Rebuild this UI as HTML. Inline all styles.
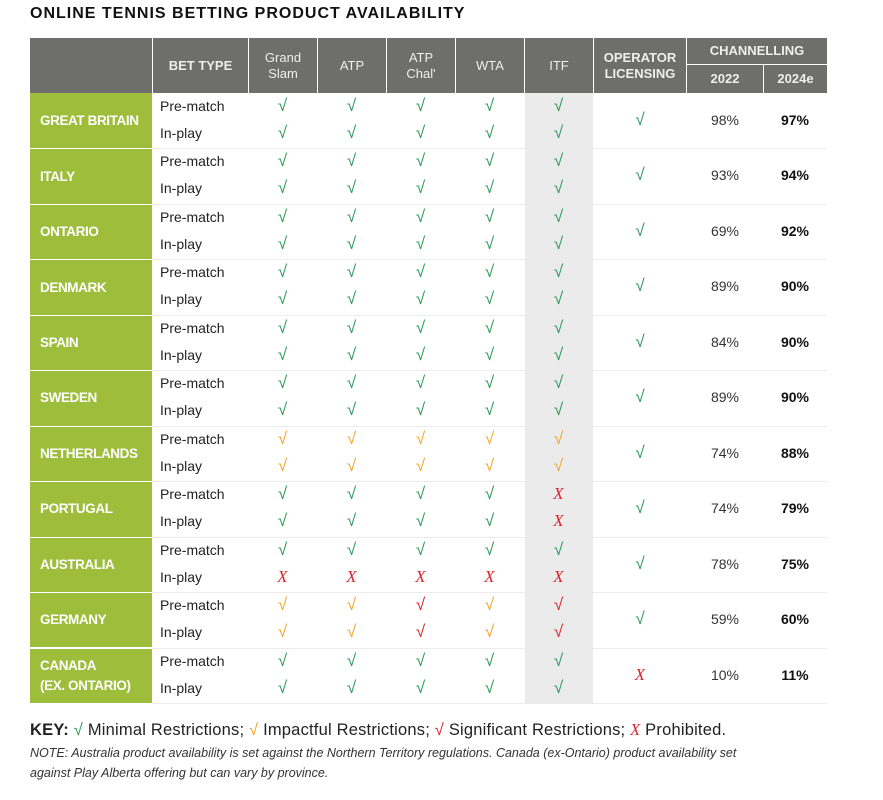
<!DOCTYPE html>
<html><head><meta charset="utf-8">
<style>
body{margin:0;width:883px;height:800px;background:#fff;font-family:"Liberation Sans",sans-serif;position:relative;overflow:hidden}
.a{position:absolute;box-sizing:border-box}
.h{background:#6e6e6d;color:#eee;display:flex;align-items:center;justify-content:center;text-align:center;font-size:13px;line-height:16px}
.hb{font-weight:bold;font-size:13px}
.c{background:#9dbd3b;color:#fff;font-weight:bold;font-size:13.5px;letter-spacing:-0.4px;display:flex;align-items:center;padding-left:10px;line-height:20px}
.t{font-size:14px;color:#222}
.m{font-size:17px;text-align:center;width:30px;margin-left:-15px}
.g{color:#2b9a58}.o{color:#f1a62c}.r{color:#d8262c}.x{color:#d8262c;font-style:italic;font-family:"Liberation Serif",serif}
</style></head><body>
<div class="a" style="left:30px;top:5px;font-size:16px;font-weight:bold;color:#111;letter-spacing:1px">ONLINE TENNIS BETTING PRODUCT AVAILABILITY</div>
<div id="tbl"></div>
<div class="a" style="left:30px;top:720px;font-size:16.5px;color:#222;white-space:nowrap;letter-spacing:0.2px"><b>KEY:</b> <span class="g">√</span> Minimal Restrictions; <span class="o">√</span> Impactful Restrictions; <span class="r">√</span> Significant Restrictions; <span class="x">X</span> Prohibited.</div>
<div class="a" style="left:30px;top:743px;font-size:12.5px;font-style:italic;color:#333;line-height:20px;width:840px;white-space:nowrap">NOTE: Australia product availability is set against the Northern Territory regulations. Canada (ex-Ontario) product availability set<br>against Play Alberta offering but can vary by province.</div>
<script>
const countries=["GREAT BRITAIN","ITALY","ONTARIO","DENMARK","SPAIN","SWEDEN","NETHERLANDS","PORTUGAL","AUSTRALIA","GERMANY","CANADA<br>(EX. ONTARIO)"];
const columns=["Grand<br>Slam","ATP","ATP<br>Chal'","WTA","ITF"];
// per country: [pre-match 5 cols],[in-play 5 cols]
const preMatch=["ggggg","ggggg","ggggg","ggggg","ggggg","ggggg","ooooo","ggggx","ggggg","ooror","ggggg"];
const inPlay=["ggggg","ggggg","ggggg","ggggg","ggggg","ggggg","ooooo","ggggx","xxxxx","ooror","ggggg"];
const licensing=["g","g","g","g","g","g","g","g","g","g","x"];
const ch2022=["98%","93%","69%","89%","84%","89%","74%","74%","78%","59%","10%"];
const ch2024=["97%","94%","92%","90%","90%","90%","88%","79%","75%","60%","11%"];
const T=document.getElementById('tbl');
function box(cls,x,y,w,h,html,name){const d=document.createElement('div');d.className='a '+cls;d.style.left=x+'px';d.style.top=y+'px';if(w!=null)d.style.width=w+'px';if(h!=null)d.style.height=h+'px';d.innerHTML=html;


T.appendChild(d);return d;}
const colX=[249,318,387,456,525],colW=69;
const top0=38,hdrH=55,rowH=55.45;
box('h',30,top0,122,hdrH,'','header-blank');
box('h hb',153,top0,95,hdrH,'BET TYPE','header-bet-type');
columns.forEach((c,i)=>box('h',colX[i],top0,colW-1,hdrH,c,'header-'+i));
box('h hb',594,top0,92,hdrH,'OPERATOR<br>LICENSING','header-operator-licensing');
box('h hb',687,top0,140,26,'CHANNELLING','header-channelling');
box('h hb',687,top0+27,76,28,'2022','header-2022');
box('h hb',764,top0+27,63,28,'2024e','header-2024e');
const bodyTop=top0+hdrH;
box('',525,bodyTop,68,rowH*11,'','itf-shade').style.background='#ebebeb';
function mark(code){return code==='x'?'<span class="x">X</span>':'<span class="'+code+'">√</span>';}
countries.forEach((c,k)=>{
 const y=bodyTop+k*rowH;
 const cc=box('c',30,y+(k?1:0),122,rowH-(k?1:0),c,'country-'+k);
 if(k)box('',153,y,674,1,'','row-sep-'+k).style.background='#ececec';
 box('t',160,y+5,90,null,'Pre-match','pre-match-label');
 box('t',160,y+32,90,null,'In-play','in-play-label');
 for(let i=0;i<5;i++){
  box('m',colX[i]+colW/2-1,y+3,null,null,mark(preMatch[k][i]),'pre-match-mark');
  box('m',colX[i]+colW/2-1,y+30,null,null,mark(inPlay[k][i]),'in-play-mark');
 }
 box('m',640,y+17,null,null,mark(licensing[k]),'licensing-mark');
 box('t',700,y+19,50,null,ch2022[k],'value-2022').style.cssText+='text-align:center;color:#333';
 box('t',770,y+19,50,null,'<b>'+ch2024[k]+'</b>','value-2024e').style.cssText+='text-align:center;color:#111';
});
box('',153,bodyTop+rowH*11,674,1,'','row-sep-end').style.background='#ececec';
</script>
</body></html>
